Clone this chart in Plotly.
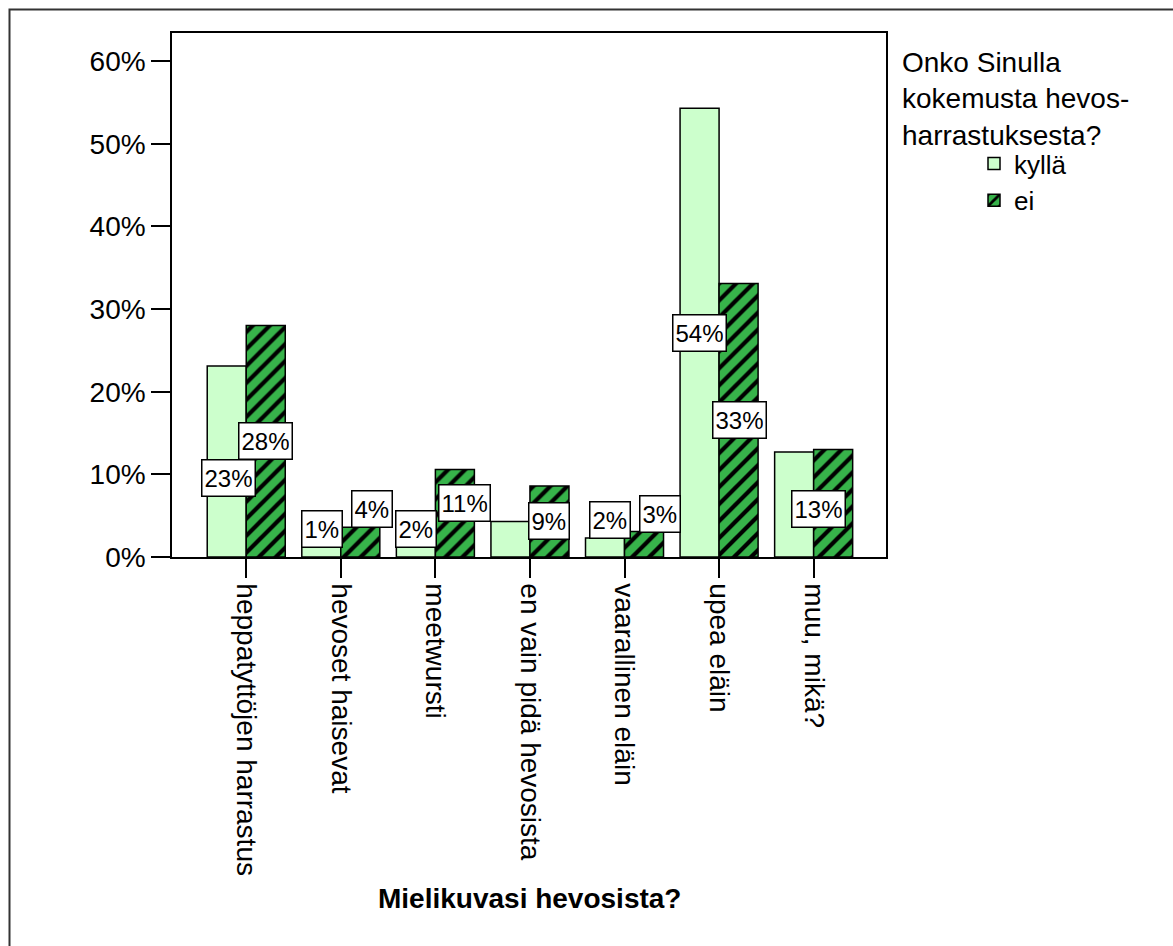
import plotly.graph_objects as go

# Survey data: "Mielikuvasi hevosista?" split by horse-riding experience
categories = [
    "heppatyttöjen harrastus",
    "hevoset haisevat",
    "meetwursti",
    "en vain pidä hevosista",
    "vaarallinen eläin",
    "upea eläin",
    "muu, mikä?",
]
kylla_pct = [23.1, 1.2, 1.8, 4.3, 2.3, 54.3, 12.7]
ei_pct = [28.0, 3.6, 10.6, 8.6, 3.1, 33.1, 13.0]

y_ticks = [0, 10, 20, 30, 40, 50, 60]
y_tick_text = ["0%", "10%", "20%", "30%", "40%", "50%", "60%"]

# which bars carry a value label
kylla_labeled = [True, True, True, False, True, True, False]
ei_labeled = [True, True, True, True, True, True, True]

# pixel nudges (dx, dy) that keep neighbouring labels apart
kylla_nudge = [(2, -16), (1, 23), (0, 21), (0, 0), (5, 28), (0, 0), (0, 0)]
ei_nudge = [(0, 0), (12, 33), (10, 10), (0, 0), (16, 30), (1, 0), (-15, -6)]

FONT = "Liberation Sans, Arial, sans-serif"
LIGHT = "#ccffcc"
GREEN = "#37b34a"

fig = go.Figure()
fig.add_trace(go.Bar(
    name="kyllä", x=categories, y=kylla_pct,
    marker=dict(color=LIGHT, line=dict(color="black", width=1.5)),
))
fig.add_trace(go.Bar(
    name="ei", x=categories, y=ei_pct,
    marker=dict(
        color=GREEN,
        line=dict(color="black", width=1.5),
        pattern=dict(shape="/", size=12, solidity=0.35,
                     fgcolor="black", bgcolor=GREEN, fillmode="replace"),
    ),
))

# value labels in white boxes, centred on each bar's mid-height
BAR_OFFSET = 19.5  # half a bar width in px
for series, values, flags, nudges, side in (
    ("kyllä", kylla_pct, kylla_labeled, kylla_nudge, -1),
    ("ei", ei_pct, ei_labeled, ei_nudge, 1),
):
    for cat, v, show, (dx, dy) in zip(categories, values, flags, nudges):
        if not show:
            continue
        fig.add_annotation(
            x=cat, y=v / 2, xref="x", yref="y",
            text=f"{int(v + 0.5)}%", showarrow=False,
            xshift=side * BAR_OFFSET + dx, yshift=dy,
            height=31, valign="middle",
            font=dict(family=FONT, size=24, color="black"),
            bgcolor="white", bordercolor="black", borderwidth=1.5, borderpad=2,
        )

# legend heading
fig.add_annotation(
    x=900, y=45, xref="paper", yref="paper", showarrow=False,
    text="Onko Sinulla<br>kokemusta hevos-<br>harrastuksesta?",
    align="left", xanchor="left", yanchor="top",
    font=dict(family=FONT, size=28, color="black"),
)
# x-axis title
fig.add_annotation(
    x=529, y=898, xref="paper", yref="paper", showarrow=False,
    text="<b>Mielikuvasi hevosista?</b>",
    xanchor="center", yanchor="middle",
    font=dict(family=FONT, size=28, color="black"),
)

W, H = 1173, 946
L, R, T, B = 172, 287, 33, 389
pw, ph = W - L - R, H - T - B


def px_x(p):
    return (p - L) / pw


def px_y(p):
    return 1 - (p - T) / ph


# re-map the two pixel-placed annotations into paper coordinates
for ann in fig.layout.annotations[-2:]:
    ann.x = px_x(ann.x)
    ann.y = px_y(ann.y)

# outer frame
fig.add_shape(
    type="rect", xref="paper", yref="paper",
    x0=px_x(9.5), x1=px_x(W + 20), y0=px_y(9.5), y1=px_y(H + 20),
    line=dict(color="#333333", width=2), fillcolor="rgba(0,0,0,0)",
    layer="below",
)

fig.update_layout(
    width=W, height=H,
    margin=dict(l=L, r=R, t=T, b=B, pad=0),
    paper_bgcolor="white", plot_bgcolor="white",
    barmode="group", bargap=0.175, bargroupgap=0,
    font=dict(family=FONT, size=28, color="black"),
    showlegend=True,
    legend=dict(
        x=px_x(974), y=px_y(140), xanchor="left", yanchor="top",
        font=dict(family=FONT, size=26, color="black"),
        bgcolor="rgba(0,0,0,0)", tracegroupgap=0,
    ),
    xaxis=dict(
        type="category", range=[-0.785, 6.765],
        tickangle=90, ticks="outside", ticklen=19, tickwidth=1.5,
        tickcolor="black", showline=True, linecolor="black", linewidth=1.5,
        mirror=True, showgrid=False, automargin=False,
        tickfont=dict(family=FONT, size=28, color="black"),
    ),
    yaxis=dict(
        range=[0, 63.4], tickmode="array", tickvals=y_ticks, ticktext=y_tick_text,
        ticks="outside", ticklen=19, tickwidth=1.5,
        tickcolor="black", showline=True, linecolor="black", linewidth=1.5,
        mirror=True, showgrid=False, zeroline=False, automargin=False,
        tickfont=dict(family=FONT, size=28, color="black"),
    ),
)

fig.write_html("out.html")
